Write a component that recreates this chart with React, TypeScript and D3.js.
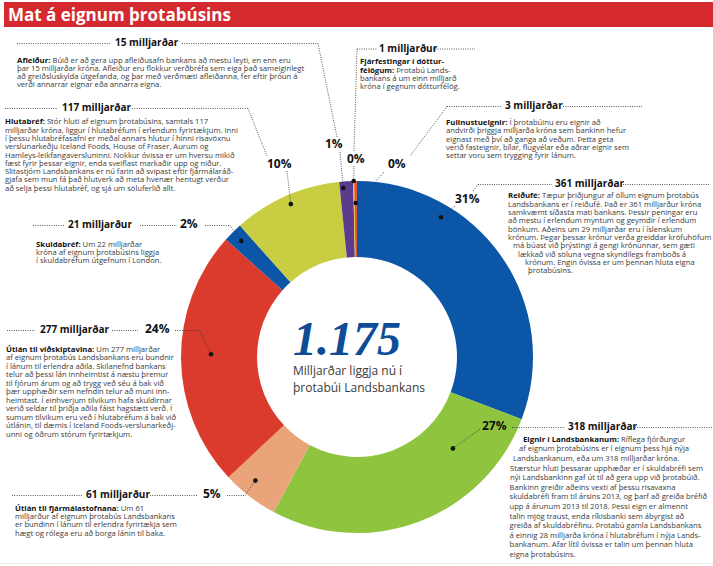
import React from 'react';
import * as d3 from 'd3';

// Eignir þrotabús Landsbankans, milljarðar króna
const categories = [
  'Reiðufé',
  'Eignir í Landsbankanum',
  'Útlán til fjármálastofnana',
  'Útlán til viðskiptavina',
  'Skuldabréf',
  'Hlutabréf',
  'Afleiður',
  'Fjárfestingar í dótturfélögum',
  'Fullnustueignir',
];
const values = [361, 318, 61, 277, 21, 117, 15, 1, 3];
const amounts = [
  '361 milljarðar',
  '318 milljarðar',
  '61 milljarður',
  '277 milljarðar',
  '21 milljarður',
  '117 milljarðar',
  '15 milljarðar',
  '1 milljarður',
  '3 milljarðar',
];
// text before "|" is bold
const descriptions: string[][] = [
  [
    'Reiðufé:| Tæpur þriðjungur af öllum eignum þrotabús',
    'Landsbankans er í reiðufé. Það er 361 milljarður króna',
    'samkvæmt síðasta mati bankans. Þessir peningar eru',
    'að mestu í erlendum myntum og geymdir í erlendum',
    'bönkum. Aðeins um 29 milljarðar eru í íslenskum',
    'krónum. Þegar þessar krónur verða greiddar kröfuhöfum',
    'má búast við þrýstingi á gengi krónunnar, sem gæti',
    'lækkað við söluna vegna skyndilegs framboðs á',
    'krónum. Engin óvissa er um þennan hluta eigna',
    'þrotabúsins.',
  ],
  [
    'Eignir í Landsbankanum:| Ríflega fjórðungur',
    'af eignum þrotabúsins er í eignum þess hjá nýja',
    'Landsbankanum, eða um 318 milljarðar króna.',
    'Stærstur hluti þessarar upphæðar er í skuldabréfi sem',
    'nýi Landsbankinn gaf út til að gera upp við þrotabúið.',
    'Bankinn greiðir aðeins vexti af þessu risavaxna',
    'skuldabréfi fram til ársins 2013, og þarf að greiða bréfið',
    'upp á árunum 2013 til 2018. Þessi eign er almennt',
    'talin mjög traust, enda ríkisbanki sem ábyrgist að',
    'greiða af skuldabréfinu. Þrotabú gamla Landsbankans',
    'á einnig 28 milljarða króna í hlutabréfum í nýja Lands-',
    'bankanum. Afar lítil óvissa er talin um þennan hluta',
    'eigna þrotabúsins.',
  ],
  [
    'Útlán til fjármálastofnana:| Um 61',
    'milljarður af eignum þrotabús Landsbankans',
    'er bundinn í lánum til erlendra fyrirtækja sem',
    'hægt og rólega eru að borga lánin til baka.',
  ],
  [
    'Útlán til viðskiptavina:| Um 277 milljarðar',
    'af eignum þrotabús Landsbankans eru bundnir',
    'í lánum til erlendra aðila. Skilanefnd bankans',
    'telur að þessi lán innheimtist á næstu þremur',
    'til fjórum árum og að trygg veð séu á bak við',
    'þær upphæðir sem nefndin telur að muni inn-',
    'heimtast. Í einhverjum tilvikum hafa skuldirnar',
    'verið seldar til þriðja aðila fáist hagstætt verð. Í',
    'sumum tilvikum eru veð í hlutabréfum á bak við',
    'útlánin, til dæmis í Iceland Foods-verslunarkeðj-',
    'unni og öðrum stórum fyrirtækjum.',
  ],
  [
    'Skuldabréf:| Um 22 milljarðar',
    'króna af eignum þrotabúsins liggja',
    'í skuldabréfum útgefnum í London.',
  ],
  [
    'Hlutabréf:| Stór hluti af eignum þrotabúsins, samtals 117',
    'milljarðar króna, liggur í hlutabréfum í erlendum fyrirtækjum. Inni',
    'í þessu hlutabréfasafni er meðal annars hlutur í hinni risavöxnu',
    'verslunarkeðju Iceland Foods, House of Fraser, Aurum og',
    'Hamleys-leikfangaversluninni. Nokkur óvissa er um hversu mikið',
    'fæst fyrir þessar eignir, enda sveiflast markaðir upp og niður.',
    'Slitastjórn Landsbankans er nú farin að svipast eftir fjármálaráð-',
    'gjafa sem mun fá það hlutverk að meta hvenær hentugt verður',
    'að selja þessi hlutabréf, og sjá um söluferlið allt.',
  ],
  [
    'Afleiður:| Búið er að gera upp afleiðusafn bankans að mestu leyti, en enn eru',
    'þar 15 milljarðar króna. Afleiður eru flokkur verðbréfa sem eiga það sameiginlegt',
    'að greiðsluskylda útgefanda, og þar með verðmæti afleiðanna, fer eftir þróun á',
    'verði annarrar eignar eða annarra eigna.',
  ],
  [
    'Fjárfestingar í dóttur-|',
    'félögum:| Þrotabú Lands-',
    'bankans á um einn milljarð',
    'króna í gegnum dótturfélög.',
  ],
  [
    'Fullnustueignir:| Í þrotabúinu eru eignir að',
    'andvirði þriggja milljarða króna sem bankinn hefur',
    'eignast með því að ganga að veðum. Þetta geta',
    'verið fasteignir, bílar, flugvélar eða aðrar eignir sem',
    'settar voru sem trygging fyrir lánum.',
  ],
];
const title = 'Mat á eignum þrotabúsins';
const totalLabel = '1.175';
const centerLines = ['Milljarðar liggja nú í', 'þrotabúi Landsbankans'];

const colors = ['#0b56a6', '#8fc43f', '#e9a47a', '#da3b2c', '#0b56a6', '#c8cd42', '#5b3c8c', '#f4c41c', '#e4572e'];

const W = 713;
const H = 566;
const cx = 357;
const cy = 357;
const rOuter = 176;
const rInner = 100;

type Seg = [number, number, number, number];
type Callout = {
  hx: number; hy: number; // header
  px: number; py: number; // percent
  segs: Seg[]; // dotted rules
  lead: [number, number]; // leader start, runs to the dot
  f: number; r: number; // dot position inside slice
  bx: number | number[]; by: number; lh: number;
};

const layout: Callout[] = [
  { hx: 555, hy: 187, px: 455, py: 203, segs: [[478, 184.5, 552, 184.5], [623, 184.5, 710, 184.5], [478, 184.5, 473, 191]], lead: [455, 206], f: 0.28, r: 163,
    bx: [508, 508, 508, 508, 508, 508, 513, 518, 525, 528], by: 198.3, lh: 8.35 },
  { hx: 568, hy: 430, px: 482, py: 430, segs: [[512, 427.5, 565, 427.5], [635, 427.5, 712, 427.5]], lead: [480, 429], f: 0.235, r: 132.5,
    bx: [523, 519, 513, 510, 510, 509.5, 509.5, 509.5, 509.5, 509.5, 509.5, 509.5, 509.5], by: 441.7, lh: 9.6 },
  { hx: 86, hy: 498.3, px: 203, py: 498.3, segs: [[12, 495.5, 82, 495.5], [150, 495.5, 197, 495.5], [227, 495.5, 245, 495.5]], lead: [245, 495.5], f: 0.6, r: 160,
    bx: 15, by: 510.7, lh: 8.35 },
  { hx: 40, hy: 333.3, px: 145, py: 333.3, segs: [[7, 330.5, 35, 330.5], [112, 330.5, 138, 330.5], [175, 330.5, 200, 330.5]], lead: [200, 330.5], f: 0.52, r: 146,
    bx: 6, by: 351.7, lh: 8.5 },
  { hx: 68, hy: 228.3, px: 180, py: 228.3, segs: [[33, 225.5, 65, 225.5], [140, 225.5, 177, 225.5], [205, 225.5, 230, 225.5]], lead: [230, 225.5], f: 0.5, r: 164,
    bx: 36, by: 246.7, lh: 8.3 },
  { hx: 62, hy: 111, px: 267, py: 167.7, segs: [[5, 108.5, 58, 108.5], [132, 108.5, 248, 108.5], [248, 108.5, 267, 156]], lead: [287, 171], f: 0.51, r: 166.6,
    bx: 5, by: 124.3, lh: 8.3 },
  { hx: 115, hy: 45.7, px: 325, py: 148, segs: [[17, 43.5, 110, 43.5], [182, 43.5, 318, 43.5], [318, 43.5, 337, 137]], lead: [340, 152], f: 0.26, r: 169.6,
    bx: 17, by: 62.7, lh: 8.2 },
  { hx: 379, hy: 51.7, px: 347, py: 163, segs: [[357, 49, 377, 49], [433, 49, 475, 49], [357, 49, 354, 151]], lead: [354, 166], f: 0.5, r: 176,
    bx: 360, by: 64.3, lh: 8.3 },
  { hx: 505, hy: 109, px: 388, py: 168, segs: [[447, 106.5, 502, 106.5], [563, 106.5, 642, 106.5], [447, 106.5, 410, 156]], lead: [384, 172], f: 0.5, r: 154,
    bx: 446, by: 125, lh: 8.35 },
];

const sans = '"Open Sans", "DejaVu Sans", sans-serif';
const dotted = { stroke: '#333', strokeWidth: 0.9, strokeDasharray: '0.9 1.4', fill: 'none' };

export default function App() {
  const total = d3.sum(values);
  const fmt = d3.format('.0%');
  const pie = d3.pie<number>().sort(null).value(d => d).startAngle(0).endAngle(2 * Math.PI);
  const arcs = pie(values);
  const arc = d3.arc<d3.PieArcDatum<number>>().innerRadius(rInner).outerRadius(rOuter);

  const dotAt = (i: number) => {
    const a = arcs[i];
    const ang = a.startAngle + layout[i].f * (a.endAngle - a.startAngle);
    const r = layout[i].r;
    return [cx + r * Math.sin(ang), cy - r * Math.cos(ang)];
  };

  return (
    <div style={{ position: 'absolute', left: 0, top: 0 }}>
      <svg width={W} height={H} style={{ display: 'block', background: '#fff' }}>
        <rect x={4} y={2} width={W - 4} height={25} fill="#d42a2f" />
        <text x={8} y={21} fill="#fff" fontFamily={sans} fontWeight={700} fontSize={17}>{title}</text>

        <g transform={`translate(${cx},${cy})`}>
          {arcs.map((a, i) => (
            <path key={categories[i]} d={arc(a) || ''} fill={colors[i]} />
          ))}
        </g>

        {/* center label */}
        <text x={293} y={355} fill="#0d4c97" fontFamily='"Liberation Serif", "DejaVu Serif", serif'
          fontStyle="italic" fontWeight={700} fontSize={48}>{totalLabel}</text>
        {centerLines.map((t, i) => (
          <text key={t} x={293} y={375 + i * 16.7} fill="#3a3a3a" fontFamily={sans} fontSize={12}>{t}</text>
        ))}

        {layout.map((c, i) => {
          const [dx, dy] = dotAt(i);
          return (
            <g key={categories[i]}>
              {c.segs.map((s, k) => (
                <line key={k} x1={s[0]} y1={s[1]} x2={s[2]} y2={s[3]} style={dotted} />
              ))}
              <line x1={c.lead[0]} y1={c.lead[1]} x2={dx} y2={dy} style={dotted} />
              <circle cx={dx} cy={dy} r={2.3} fill="#111" />
              <text x={c.hx} y={c.hy} fontFamily={sans} fontWeight={700} fontSize={10} fill="#111">{amounts[i]}</text>
              <text x={c.px} y={c.py} fontFamily={sans} fontWeight={700} fontSize={12} fill="#111">{fmt(values[i] / total)}</text>
              {descriptions[i].map((line, k) => {
                const x = Array.isArray(c.bx) ? c.bx[k] : c.bx;
                const parts = line.split('|');
                const bold = parts.length > 1 ? parts[0] : '';
                const rest = parts.length > 1 ? parts[1] : parts[0];
                return (
                  <text key={k} x={x} y={c.by + k * c.lh} fontFamily={sans} fontSize={7.65} fill="#3b3b3b" style={{ whiteSpace: 'pre' }}>
                    {bold && <tspan fontWeight={700} fill="#111" fontSize={7.8}>{bold}</tspan>}
                    {rest && <tspan>{rest}</tspan>}
                  </text>
                );
              })}
            </g>
          );
        })}

        <line x1={0} y1={563.5} x2={W} y2={563.5} stroke="#c8c8c8" strokeWidth={0.8} strokeDasharray="1 1.5" />
      </svg>
    </div>
  );
}
